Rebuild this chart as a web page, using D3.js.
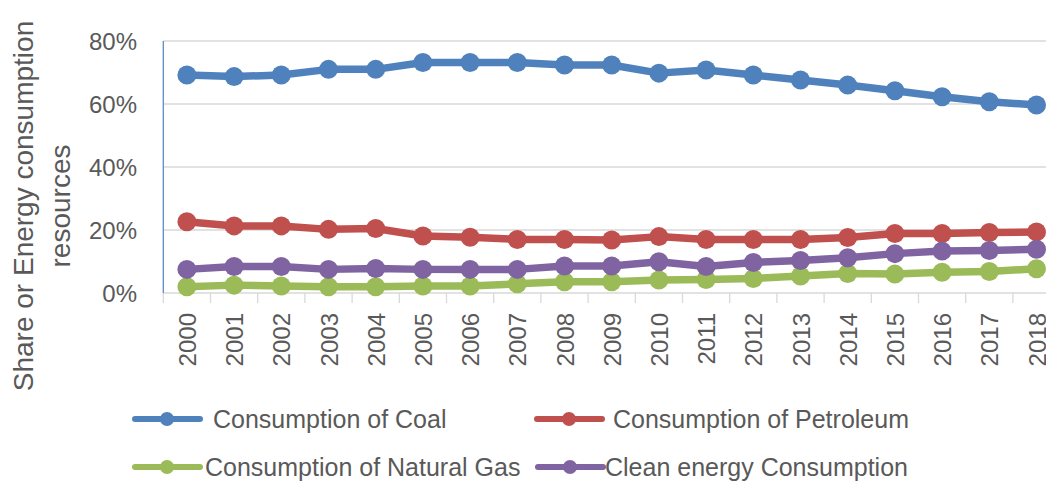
<!DOCTYPE html>
<html>
<head>
<meta charset="utf-8">
<script src="https://cdn.jsdelivr.net/npm/d3@7"></script>
<style>
  html, body { margin: 0; padding: 0; background: #fff; overflow: hidden; }
  svg { display: block; font-family: "Liberation Sans", Arial, sans-serif; }
</style>
</head>
<body>
<svg id="chart" width="1046" height="484"></svg>
<script>
// ---- data ----
const years = ["2000","2001","2002","2003","2004","2005","2006","2007","2008","2009",
               "2010","2011","2012","2013","2014","2015","2016","2017","2018"];
const coal      = [69.2, 68.7, 69.2, 71.0, 71.0, 73.2, 73.2, 73.2, 72.4, 72.4, 69.8, 70.8, 69.2, 67.6, 66.0, 64.2, 62.3, 60.7, 59.7];
const petroleum = [22.6, 21.3, 21.3, 20.2, 20.5, 18.1, 17.7, 17.0, 17.0, 16.8, 17.9, 17.0, 17.0, 17.0, 17.6, 18.9, 18.9, 19.2, 19.4];
const naturalGas= [2.0, 2.5, 2.2, 2.0, 2.0, 2.2, 2.2, 2.9, 3.6, 3.6, 4.1, 4.3, 4.6, 5.4, 6.2, 6.0, 6.6, 6.8, 7.7];
const cleanEnergy=[7.5, 8.4, 8.4, 7.5, 7.8, 7.5, 7.5, 7.5, 8.6, 8.6, 9.9, 8.4, 9.7, 10.3, 11.2, 12.5, 13.3, 13.5, 13.9];
const seriesNames = ["Consumption of Coal", "Consumption of Petroleum", "Consumption of Natural Gas", "Clean energy Consumption"];
const seriesColors = ["#4F81BD", "#C0504D", "#9BBB59", "#8064A2"];
const yTicks = [0, 20, 40, 60, 80];
const yTitle = ["Share or Energy consumption", "resources"];

const seriesValues = [coal, petroleum, naturalGas, cleanEnergy];

// ---- layout ----
const svg = d3.select("#chart");
const plotLeft = 163.3, step = 47.2, plotTop = 41, plotBottom = 293;
const x = d3.scaleBand().domain(years).range([plotLeft, plotLeft + step * years.length]).padding(0);
const y = d3.scaleLinear().domain([0, 80]).range([plotBottom, plotTop]);
const textColor = "#595959";
const gridColor = "#d9d9d9";

// gridlines
svg.append("g").selectAll("line").data(yTicks.filter(d => d > 0)).join("line")
  .attr("x1", plotLeft).attr("x2", 1046)
  .attr("y1", d => y(d)).attr("y2", d => y(d))
  .attr("stroke", gridColor).attr("stroke-width", 1.3);

// x axis
const xAxis = svg.append("g");
xAxis.append("line").attr("x1", plotLeft).attr("x2", 1046).attr("y1", plotBottom).attr("y2", plotBottom)
  .attr("stroke", gridColor).attr("stroke-width", 1.3);
xAxis.selectAll("line.tick").data(years).join("line").attr("class", "tick")
  .attr("x1", d => x(d)).attr("x2", d => x(d))
  .attr("y1", plotBottom).attr("y2", plotBottom + 10)
  .attr("stroke", gridColor).attr("stroke-width", 1.3);
xAxis.selectAll("text").data(years).join("text")
  .attr("transform", d => `translate(${x(d) + x.bandwidth() / 2 + 0.5},313) rotate(-90)`)
  .attr("text-anchor", "end")
  .attr("dominant-baseline", "central")
  .attr("fill", textColor)
  .attr("font-size", 24)
  .text(d => d);

// y axis
const yAxis = svg.append("g");
yAxis.append("line").attr("x1", plotLeft).attr("x2", plotLeft).attr("y1", plotTop).attr("y2", plotBottom)
  .attr("stroke", "#5b8cc9").attr("stroke-width", 1.3);
yAxis.selectAll("text").data(yTicks).join("text")
  .attr("x", 137).attr("y", d => y(d))
  .attr("text-anchor", "end")
  .attr("dominant-baseline", "central")
  .attr("fill", textColor)
  .attr("font-size", 24)
  .text(d => d + "%");

// y title
svg.append("g").selectAll("text").data(yTitle).join("text")
  .attr("transform", (d, i) => `translate(${33 + i * 37},206) rotate(-90)`)
  .attr("text-anchor", "middle")
  .attr("fill", textColor)
  .attr("font-size", 28)
  .text(d => d);

// series
const line = d3.line().x((d, i) => x(years[i]) + x.bandwidth() / 2).y(d => y(d));
seriesValues.forEach((vals, si) => {
  const g = svg.append("g");
  g.append("path").datum(vals).attr("d", line)
    .attr("fill", "none").attr("stroke", seriesColors[si]).attr("stroke-width", 7.5)
    .attr("stroke-linejoin", "round");
  g.selectAll("circle").data(vals).join("circle")
    .attr("cx", (d, i) => x(years[i]) + x.bandwidth() / 2)
    .attr("cy", d => y(d))
    .attr("r", 9.5)
    .attr("fill", seriesColors[si]);
});

// legend
const legendPos = [
  { lx: 135, ty: 419, tx: 213 },
  { lx: 537, ty: 419, tx: 613 },
  { lx: 135, ty: 467, tx: 205 },
  { lx: 538, ty: 467, tx: 605 }
];
const leg = svg.append("g");
seriesNames.forEach((name, i) => {
  const p = legendPos[i];
  leg.append("line").attr("x1", p.lx).attr("x2", p.lx + 65).attr("y1", p.ty).attr("y2", p.ty)
    .attr("stroke", seriesColors[i]).attr("stroke-width", 6).attr("stroke-linecap", "round");
  leg.append("circle").attr("cx", p.lx + 32).attr("cy", p.ty).attr("r", 7).attr("fill", seriesColors[i]);
  leg.append("text").attr("x", p.tx).attr("y", p.ty)
    .attr("dominant-baseline", "central")
    .attr("fill", textColor).attr("font-size", 25)
    .text(name);
});
</script>
</body>
</html>
